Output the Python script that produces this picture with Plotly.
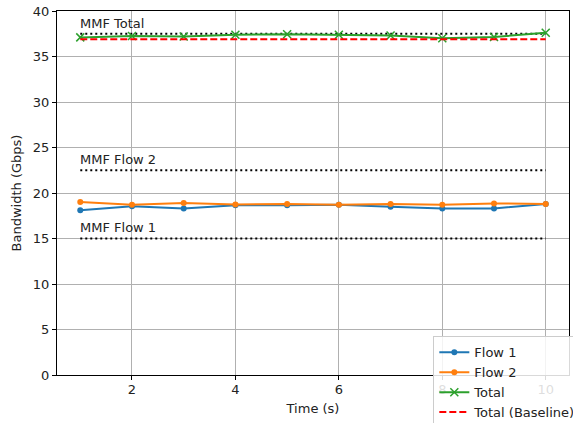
import plotly.graph_objects as go

# Measured bandwidth per second
time_s = [1, 2, 3, 4, 5, 6, 7, 8, 9, 10]
flow1 = [18.1, 18.55, 18.3, 18.65, 18.65, 18.7, 18.5, 18.3, 18.3, 18.8]
flow2 = [19.0, 18.7, 18.9, 18.75, 18.8, 18.7, 18.8, 18.7, 18.85, 18.8]
total = [a + b for a, b in zip(flow1, flow2)]
baseline_total = [36.9] * len(time_s)

# Max-min fair reference shares
mmf_names = ["MMF Total", "MMF Flow 2", "MMF Flow 1"]
mmf_values = [37.5, 22.5, 15.0]

FONT = "DejaVu Sans"
fig = go.Figure()

for name, val in zip(mmf_names, mmf_values):
    fig.add_trace(go.Scatter(
        x=[time_s[0], time_s[-1]], y=[val, val], mode="lines",
        line=dict(color="black", width=2, dash="2px,3px"),
        showlegend=False, hoverinfo="skip"))
    fig.add_annotation(x=time_s[0], y=val + 0.45, text=name, showarrow=False,
                       xanchor="left", yanchor="bottom", xshift=-2, yshift=-3,
                       font=dict(family=FONT, size=13, color="#222"))

fig.add_trace(go.Scatter(x=time_s, y=flow1, name="Flow 1", mode="lines+markers",
                         line=dict(color="#1f77b4", width=2),
                         marker=dict(symbol="circle", size=6, color="#1f77b4")))
fig.add_trace(go.Scatter(x=time_s, y=flow2, name="Flow 2", mode="lines+markers",
                         line=dict(color="#ff7f0e", width=2),
                         marker=dict(symbol="circle", size=6, color="#ff7f0e")))
fig.add_trace(go.Scatter(x=time_s, y=total, name="Total", mode="lines+markers",
                         line=dict(color="#2ca02c", width=2),
                         marker=dict(symbol="x-thin", size=8,
                                     line=dict(color="#2ca02c", width=1.5))))
fig.add_trace(go.Scatter(x=time_s, y=baseline_total, name="Total (Baseline)", mode="lines",
                         line=dict(color="red", width=2, dash="7px,3px")))

axis_common = dict(
    showline=True, linecolor="black", linewidth=1, mirror=True,
    ticks="outside", ticklen=4, tickcolor="black",
    showgrid=True, gridcolor="#b0b0b0", gridwidth=1, zeroline=False,
    automargin=False,
    tickfont=dict(family=FONT, size=13, color="#222"),
)

fig.update_layout(
    width=573, height=423,
    margin=dict(l=57, r=4, t=11, b=48, autoexpand=False),
    plot_bgcolor="white", paper_bgcolor="white",
    font=dict(family=FONT, size=13, color="#222"),
    xaxis=dict(range=[0.55, 10.45], tickvals=[2, 4, 6, 8, 10], ticklabelstandoff=-2,
               title=dict(text="Time (s)", font=dict(family=FONT, size=13), standoff=8),
               **axis_common),
    yaxis=dict(range=[0, 40], dtick=5,
               title=dict(text="Bandwidth (Gbps)", font=dict(family=FONT, size=13), standoff=8),
               **axis_common),
    legend=dict(x=0.735, y=0.106, xanchor="left", yanchor="top",
                bgcolor="rgba(255,255,255,0.85)", bordercolor="#cccccc", borderwidth=1,
                font=dict(family=FONT, size=13), tracegroupgap=0,
                itemwidth=30),
)

fig.write_html("out.html")
